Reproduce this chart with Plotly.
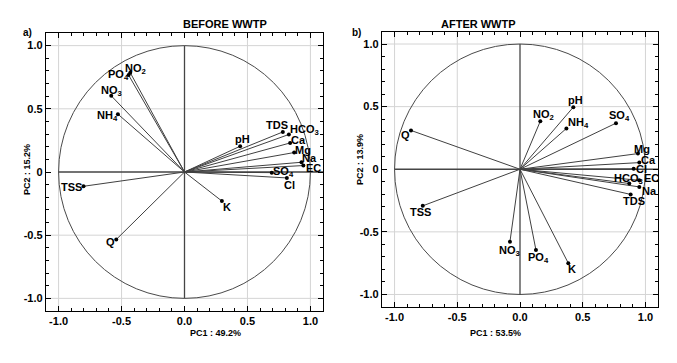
import plotly.graph_objects as go

# ---------------- data ----------------
before_vars = ["NO2", "PO4", "NO3", "NH4", "pH", "TDS", "HCO3", "Ca", "Mg", "Na", "EC", "SO4", "Cl", "TSS", "K", "Q"]
before_pc1 = [-0.431, -0.444, -0.582, -0.529, 0.442, 0.781, 0.829, 0.839, 0.871, 0.929, 0.944, 0.693, 0.813, -0.802, 0.297, -0.542]
before_pc2 = [0.786, 0.767, 0.603, 0.458, 0.204, 0.317, 0.297, 0.230, 0.154, 0.077, 0.051, -0.005, -0.047, -0.113, -0.230, -0.534]

after_vars = ["pH", "NO2", "NH4", "SO4", "Q", "Mg", "Ca", "Cl", "HCO3", "EC", "Na", "TDS", "TSS", "NO3", "PO4", "K"]
after_pc1 = [0.425, 0.162, 0.370, 0.765, -0.869, 0.940, 0.951, 0.906, 0.871, 0.950, 0.951, 0.882, -0.775, -0.080, 0.127, 0.385]
after_pc2 = [0.496, 0.384, 0.326, 0.368, 0.310, 0.125, 0.053, 0.003, -0.114, -0.088, -0.141, -0.201, -0.292, -0.578, -0.644, -0.750]

x_tickvals = [-1.0, -0.5, 0.0, 0.5, 1.0]
x_ticktext = ["-1.0", "-0.5", "0.0", "0.5", "1.0"]
y_tickvals = [-1.0, -0.5, 0.0, 0.5, 1.0]
y_ticktext = ["-1.0", "-0.5", "0", "0.5", "1.0"]

titles = ["BEFORE WWTP", "AFTER WWTP"]
panel_tags = ["a)", "b)"]
pc1_titles = ["PC1 : 49.2%", "PC1 : 53.5%"]
pc2_titles = ["PC2 : 15.2%", "PC2 : 13.9%"]

# label offsets in pixels (dx right, dy down) relative to the point
before_off = {"NO2": (5, -4), "PO4": (-10, 0), "NO3": (0, -5), "NH4": (-10, 2), "pH": (2, -7),
              "TDS": (-6, -7), "HCO3": (16, -4), "Ca": (8, -3), "Mg": (9, -3), "Na": (8, -4),
              "EC": (10, 2), "SO4": (12, -1), "Cl": (3, 7), "TSS": (-12, 1), "K": (5, 6), "Q": (-6, 3)}
after_off = {"pH": (2, -7), "NO2": (3, -6), "NH4": (12, -5), "SO4": (4, -7), "Q": (-5, 5),
             "Mg": (4, -5), "Ca": (9, -3), "Cl": (8, 0), "HCO3": (-1, -5), "EC": (12, -2),
             "Na": (10, 4), "TDS": (3, 7), "TSS": (-2, 6), "NO3": (0, 9), "PO4": (3, 8), "K": (4, 6)}

subs = {"NO2": "NO<sub>2</sub>", "PO4": "PO<sub>4</sub>", "NO3": "NO<sub>3</sub>", "NH4": "NH<sub>4</sub>",
        "HCO3": "HCO<sub>3</sub>", "SO4": "SO<sub>4</sub>"}

FONT = "Liberation Sans, Arial, sans-serif"
W, H = 677, 363
domains = [
    ((46 / W, 323 / W), (1 - 311 / H, 1 - 33 / H)),
    ((382 / W, 658 / W), (1 - 307 / H, 1 - 31.5 / H)),
]

fig = go.Figure()
annotations = []
shapes = []

panels = [(before_vars, before_pc1, before_pc2, before_off),
          (after_vars, after_pc1, after_pc2, after_off)]

for i, (vars_, xs, ys, offs) in enumerate(panels):
    xa = "x" if i == 0 else "x2"
    ya = "y" if i == 0 else "y2"
    axsuf = "" if i == 0 else "2"
    # grid lines
    for v in [-1.0, -0.5, 0.5, 1.0]:
        shapes.append(dict(type="line", xref=xa, yref=ya, x0=v, x1=v, y0=-1.1, y1=1.1,
                           line=dict(color="#d4d4d4", width=1), layer="below"))
        shapes.append(dict(type="line", xref=xa, yref=ya, y0=v, y1=v, x0=-1.1, x1=1.1,
                           line=dict(color="#d4d4d4", width=1), layer="below"))
    # unit circle
    shapes.append(dict(type="circle", xref=xa, yref=ya, x0=-1, x1=1, y0=-1, y1=1,
                       line=dict(color="#4a4a4a", width=1), layer="below"))
    # zero lines
    shapes.append(dict(type="line", xref=xa, yref=ya, x0=-1, x1=1.1, y0=0, y1=0,
                       line=dict(color="#454545", width=1.3), layer="below"))
    shapes.append(dict(type="line", xref=xa, yref=ya, x0=0, x1=0, y0=-1, y1=1,
                       line=dict(color="#454545", width=1.3), layer="below"))

    lx, ly = [], []
    for x, y in zip(xs, ys):
        lx += [0, x, None]
        ly += [0, y, None]
    fig.add_trace(go.Scatter(x=lx, y=ly, mode="lines", line=dict(color="#404040", width=1),
                             xaxis=xa, yaxis=ya, showlegend=False, hoverinfo="skip"))
    fig.add_trace(go.Scatter(x=xs, y=ys, mode="markers", marker=dict(color="black", size=4),
                             xaxis=xa, yaxis=ya, showlegend=False, text=vars_))
    for name, x, y in zip(vars_, xs, ys):
        dx, dy = offs[name]
        annotations.append(dict(x=x, y=y, xref=xa, yref=ya, text="<b>" + subs.get(name, name) + "</b>",
                                showarrow=False, xshift=dx, yshift=-dy,
                                font=dict(family=FONT, size=11, color="black")))

    axis_common = dict(range=[-1.1, 1.1], showgrid=False, zeroline=False, showline=True,
                       linecolor="black", linewidth=1.3, mirror="ticks", ticks="inside",
                       ticklen=5, tickcolor="black", tickwidth=1,
                       tickfont=dict(family=FONT, size=11, color="black", weight="bold"),
                       minor=dict(dtick=0.1, ticks="inside", ticklen=3, tickcolor="black", showgrid=False))
    fig.update_layout(**{
        "xaxis" + axsuf: dict(axis_common, domain=list(domains[i][0]), anchor=ya,
                              tickvals=x_tickvals, ticktext=x_ticktext),
        "yaxis" + axsuf: dict(axis_common, domain=list(domains[i][1]), anchor=xa,
                              tickvals=y_tickvals, ticktext=y_ticktext),
    })

# titles, tags, axis titles
title_x = [181, 518]
tag_x = [21, 356]
pc1_x = [188, 523]
pc2_pos = [(20, 170), (360, 160)]
for i in range(2):
    annotations.append(dict(x=title_x[i] / W, y=1 - 16 / H, xref="paper", yref="paper",
                            text="<b>" + titles[i] + "</b>", showarrow=False,
                            font=dict(family=FONT, size=11, color="black")))
    annotations.append(dict(x=tag_x[i] / W, y=1 - 25 / H, xref="paper", yref="paper",
                            text="<b>" + panel_tags[i] + "</b>", showarrow=False,
                            font=dict(family=FONT, size=10, color="black")))
    annotations.append(dict(x=pc1_x[i] / W, y=1 - 340 / H, xref="paper", yref="paper",
                            text="<b>" + pc1_titles[i] + "</b>", showarrow=False,
                            font=dict(family=FONT, size=9, color="black")))
    annotations.append(dict(x=pc2_pos[i][0] / W, y=1 - pc2_pos[i][1] / H, xref="paper", yref="paper",
                            text="<b>" + pc2_titles[i] + "</b>", showarrow=False, textangle=-90,
                            font=dict(family=FONT, size=9, color="black")))

fig.update_layout(width=W, height=H, margin=dict(l=0, r=0, t=0, b=0),
                  paper_bgcolor="white", plot_bgcolor="white",
                  annotations=annotations, shapes=shapes, showlegend=False)

fig.write_html("out.html")
